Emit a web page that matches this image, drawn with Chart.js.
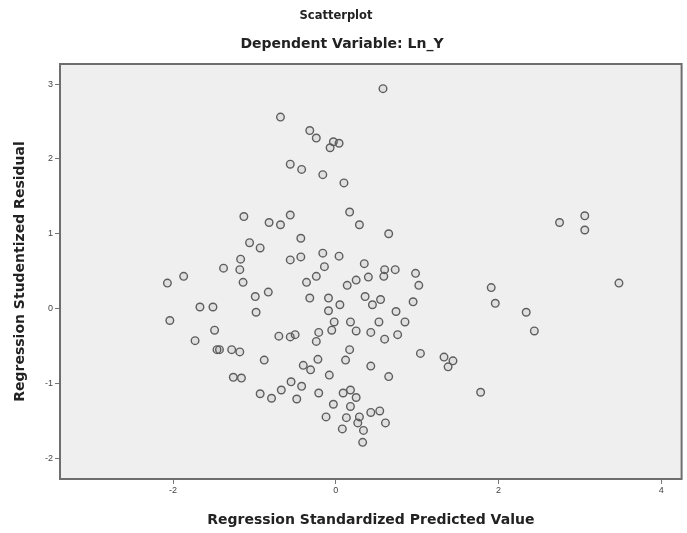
<!DOCTYPE html>
<html>
<head>
<meta charset="utf-8">
<title>Scatterplot</title>
<script src="https://cdn.jsdelivr.net/npm/chart.js"></script>
<style>
    html, body { margin: 0; padding: 0; background: #fff; }
    #wrap { width: 687px; height: 533px; }
</style>
</head>
<body>
<div id="wrap"><canvas id="scatter" width="687" height="533"></canvas></div>
<script>
    // values
    const predicted = [
        0.58, -0.68, -0.32, -0.24, -0.03, 0.04, -0.07, -0.56, -0.42, -0.16, 0.10, 0.17, 0.29, 0.65,
        -1.13, -0.82, -0.68, -0.56, -0.43, -1.06, -0.93, -0.16, 0.04, -0.56, -0.43, -1.17, -1.38, -1.18,
        -0.14, 0.35, 0.60, 0.73, 0.98,
        2.75, 3.06, 3.06, 1.91, 1.96, 2.34, 2.44, 3.48, 1.33, 1.44, 1.38, 1.78,
        -2.07, -1.87, -1.67, -1.51, -2.04, -1.49, -1.73, -1.46,
        -1.14, -0.99, -0.83, -0.98, -0.36, -0.24, -0.32, -0.09, 0.05, -0.09, 0.14, 0.25, 0.40, 0.59,
        1.02, 0.36, 0.45, 0.55, 0.74, 0.95, 0.85, -0.02, -0.05, 0.18, 0.25, 0.43, 0.53, 0.76, 0.60,
        -0.21, -0.24, -0.70, -0.50, -0.56, -1.43, -1.28, -1.18, -0.88, -0.22, -0.40, -0.31, 0.17, 0.12,
        0.43, 0.65, 1.04, -0.08, -1.26, -1.16, -0.55, -0.42, -0.67, -0.93, -0.79, -0.48, -0.21, 0.09,
        0.18, 0.25, -0.03, 0.18, -0.12, 0.13, 0.29, 0.43, 0.54, 0.61, 0.08, 0.27, 0.34, 0.33
    ];
    const residual = [
        2.94, 2.56, 2.38, 2.28, 2.23, 2.21, 2.15, 1.93, 1.86, 1.79, 1.68, 1.29, 1.12, 1.00,
        1.23, 1.15, 1.12, 1.25, 0.94, 0.88, 0.81, 0.74, 0.70, 0.65, 0.69, 0.66, 0.54, 0.52,
        0.56, 0.60, 0.52, 0.52, 0.47,
        1.15, 1.24, 1.05, 0.28, 0.07, -0.05, -0.30, 0.34, -0.65, -0.70, -0.78, -1.12,
        0.34, 0.43, 0.02, 0.02, -0.16, -0.29, -0.43, -0.55,
        0.35, 0.16, 0.22, -0.05, 0.35, 0.43, 0.14, 0.14, 0.05, -0.03, 0.31, 0.38, 0.42, 0.43,
        0.31, 0.16, 0.05, 0.12, -0.04, 0.09, -0.18, -0.18, -0.29, -0.18, -0.30, -0.32, -0.18, -0.35, -0.41,
        -0.32, -0.44, -0.37, -0.35, -0.38, -0.55, -0.55, -0.58, -0.69, -0.68, -0.76, -0.82, -0.55, -0.69,
        -0.77, -0.91, -0.60, -0.89, -0.92, -0.93, -0.98, -1.04, -1.09, -1.14, -1.20, -1.21, -1.13, -1.13,
        -1.09, -1.19, -1.28, -1.31, -1.45, -1.46, -1.45, -1.39, -1.37, -1.53, -1.61, -1.53, -1.63, -1.79
    ];
    const xTicks = [-2, 0, 2, 4];
    const yTicks = [-2, -1, 0, 1, 2, 3];

    const points = predicted.map((x, i) => ({ x: x, y: residual[i] }));
    const boldFont = '"DejaVu Sans", "Liberation Sans", sans-serif';

    const frame = {
        id: 'frame',
        beforeDraw(chart) {
            const { ctx, chartArea: a } = chart;
            ctx.save();
            ctx.fillStyle = '#efefef';
            ctx.fillRect(a.left, a.top, a.right - a.left, a.bottom - a.top);
            ctx.restore();
        },
        afterDraw(chart) {
            const { ctx, chartArea: a } = chart;
            ctx.save();
            ctx.strokeStyle = '#6e6e6e';
            ctx.lineWidth = 2;
            ctx.strokeRect(a.left, a.top, a.right - a.left, a.bottom - a.top);
            ctx.fillStyle = '#222';
            ctx.textAlign = 'center';
            ctx.textBaseline = 'middle';
            ctx.font = 'bold 11.5px ' + boldFont;
            ctx.fillText('Scatterplot', 336, 16);
            ctx.font = 'bold 14px ' + boldFont;
            ctx.fillText('Dependent Variable: Ln_Y', 342, 44);
            ctx.restore();
        }
    };

    new Chart(document.getElementById('scatter'), {
        type: 'scatter',
        data: {
            datasets: [{
                data: points,
                pointRadius: 3.8,
                pointBorderWidth: 1.4,
                pointBorderColor: '#5e5e5e',
                pointBackgroundColor: 'rgba(0,0,0,0.06)'
            }]
        },
        options: {
            responsive: false,
            animation: false,
            layout: { padding: { top: 64, right: 5, left: 0, bottom: 0 } },
            plugins: { legend: { display: false }, tooltip: { enabled: false } },
            scales: {
                x: {
                    type: 'linear',
                    min: -3.39,
                    max: 4.25,
                    afterBuildTicks: (s) => { s.ticks = xTicks.map(v => ({ value: v })); },
                    afterFit: (s) => { s.height = 54; },
                    grid: { drawOnChartArea: false, tickLength: 5, color: '#777' },
                    border: { color: '#6e6e6e', width: 2 },
                    ticks: { color: '#444', font: { size: 9, family: '"Liberation Sans", Arial' }, padding: 1 },
                    title: {
                        display: true,
                        text: 'Regression Standardized Predicted Value',
                        color: '#222',
                        font: { size: 14, weight: 'bold', family: boldFont },
                        padding: { top: 9 }
                    }
                },
                y: {
                    type: 'linear',
                    min: -2.28,
                    max: 3.27,
                    afterBuildTicks: (s) => { s.ticks = yTicks.map(v => ({ value: v })); },
                    afterFit: (s) => { s.width = 60; },
                    grid: { drawOnChartArea: false, tickLength: 5, color: '#777' },
                    border: { color: '#6e6e6e', width: 2 },
                    ticks: { color: '#444', font: { size: 9, family: '"Liberation Sans", Arial' }, padding: 2 },
                    title: {
                        display: true,
                        text: 'Regression Studentized Residual',
                        color: '#222',
                        font: { size: 14, weight: 'bold', family: boldFont },
                        padding: { top: 12, bottom: 0 }
                    }
                }
            }
        },
        plugins: [frame]
    });
</script>
</body>
</html>
